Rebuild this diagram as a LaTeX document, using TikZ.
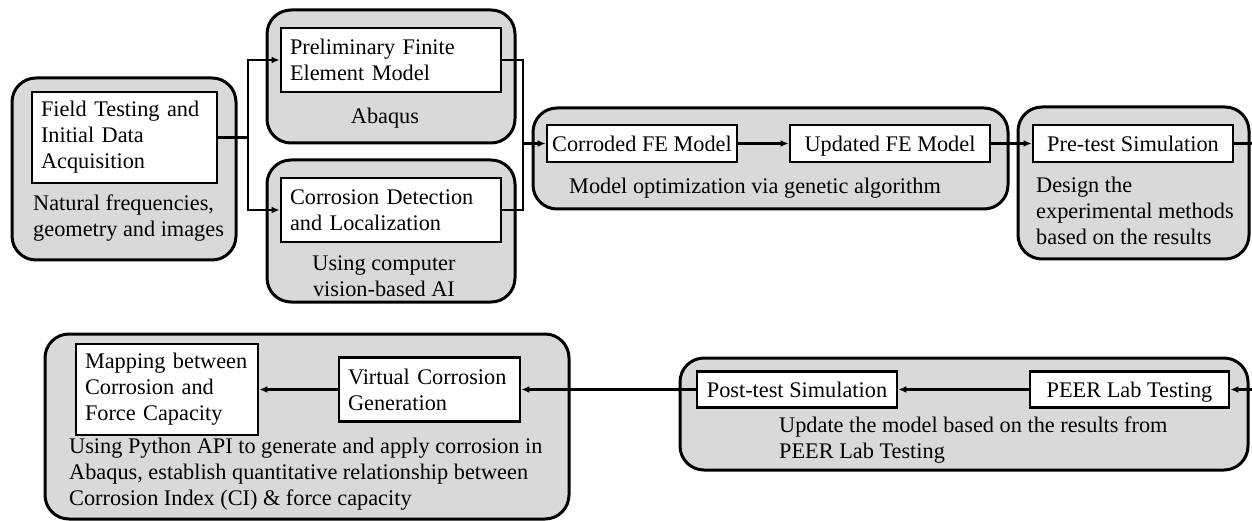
\documentclass[tikz,border=0pt]{standalone}
\usepackage{fontspec}
\setmainfont{Liberation Serif}
\usetikzlibrary{arrows.meta}
\definecolor{grp}{RGB}{217,217,217}
\begin{document}
\begin{tikzpicture}[x=1pt,y=-1pt,
  every node/.style={font=\fontsize{22.3}{26}\selectfont},
  group/.style={draw, fill=grp, line width=3pt, rounded corners=24pt},
  inbox/.style={draw, fill=white, line width=2.9pt, align=left, inner xsep=9pt, inner ysep=0pt, anchor=center},
  onebox/.style={draw, fill=white, line width=2.9pt, inner xsep=3pt, inner ysep=0pt, text height=16pt, text depth=0pt, anchor=center},
  lbl/.style={inner sep=0pt, align=left, anchor=north west},
  clbl/.style={inner sep=0pt, align=center, anchor=north},
  conn/.style={line width=2.8pt},
  connb/.style={line width=2.1pt},
  arr/.style={-{Latex[length=8pt,width=7pt]}}
]
\useasboundingbox (0,0) rectangle (1252,521);

% group containers
\path[group] (12,78) rectangle (236,260);
\path[group] (267,10) rectangle (515,143);
\path[group] (267,160) rectangle (515,302);
\path[group] (533,108) rectangle (1008,209);
\path[group] (1018,107) rectangle (1249,259);
\path[group] (45,334) rectangle (569,519);
\path[group] (680,358) rectangle (1248,470);

% inner boxes
\node[inbox, minimum width=185pt, minimum height=91pt, text width=167pt] (fi) at (124.5,137.5)
  {Field Testing and\\Initial Data\\Acquisition};
\node[inbox, minimum width=220pt, minimum height=64pt, text width=202pt] (pi) at (391,60)
  {Preliminary Finite\\Element Model};
\node[inbox, minimum width=220pt, minimum height=64pt, text width=202pt] (ci) at (391,210)
  {Corrosion Detection\\and Localization};
\node[onebox, minimum width=190pt, minimum height=37pt] (co) at (642,143.5) {Corroded FE Model};
\node[onebox, minimum width=200pt, minimum height=37pt] (up) at (890,143.5) {Updated FE Model};
\node[onebox, minimum width=200pt, minimum height=37pt] (pt) at (1133,143.5) {Pre-test Simulation};
\node[inbox, minimum width=182pt, minimum height=91pt, text width=164pt] (map) at (167,389.5)
  {Mapping between\\Corrosion and\\Force Capacity};
\node[inbox, minimum width=181pt, minimum height=64pt, text width=163pt] (vi) at (429.5,389.5)
  {Virtual Corrosion\\Generation};
\node[onebox, minimum width=200pt, minimum height=36pt] (post) at (797,389.5) {Post-test Simulation};
\node[onebox, minimum width=199pt, minimum height=36pt] (peer) at (1129.5,389.5) {PEER Lab Testing};

% group labels
\node[lbl] (l1) at (33,191.8) {\strut Natural frequencies,\\geometry and images};
\node[clbl] (l2) at (385,104.8) {\strut Abaqus};
\node[clbl] (l3) at (384,251.8) {\strut Using computer\\vision-based AI};
\node[clbl] (l4) at (755,174.8) {\strut Model optimization via genetic algorithm};
\node[lbl] (l5) at (1036,173.8) {\strut Design the\\experimental methods\\based on the results};
\node[lbl] (l6) at (779,413.8) {\strut Update the model based on the results from\\PEER Lab Testing};
\node[lbl] (l7) at (69,434.8) {\strut Using Python API to generate and apply corrosion in\\Abaqus, establish quantitative relationship between\\Corrosion Index (CI) \& force capacity};

% connectors
\coordinate (j1) at (248,137.5);
\coordinate (j2) at (523,143.5);
\coordinate (o1) at (1300,143.5);
\coordinate (o2) at (1300,389.5);
\draw[conn] (fi.east) -- (j1);
\draw[conn,arr] (j1) |- (pi.west);
\draw[conn,arr] (j1) |- (ci.west);
\draw[conn] (pi.east) -| (j2);
\draw[conn] (ci.east) -| (j2);
\draw[conn,arr] (j2) -- (co.west);
\draw[connb,arr] (co.east) -- (up.west);
\draw[connb,arr] (up.east) -- (pt.west);
\draw[connb] (pt.east) -- (o1) -- (o2);
\draw[connb,arr] (o2) -- (peer.east);
\draw[connb,arr] (peer.west) -- (post.east);
\draw[connb,arr] (post.west) -- (vi.east);
\draw[connb,arr] (vi.west) -- (map.east);
\end{tikzpicture}
\end{document}
